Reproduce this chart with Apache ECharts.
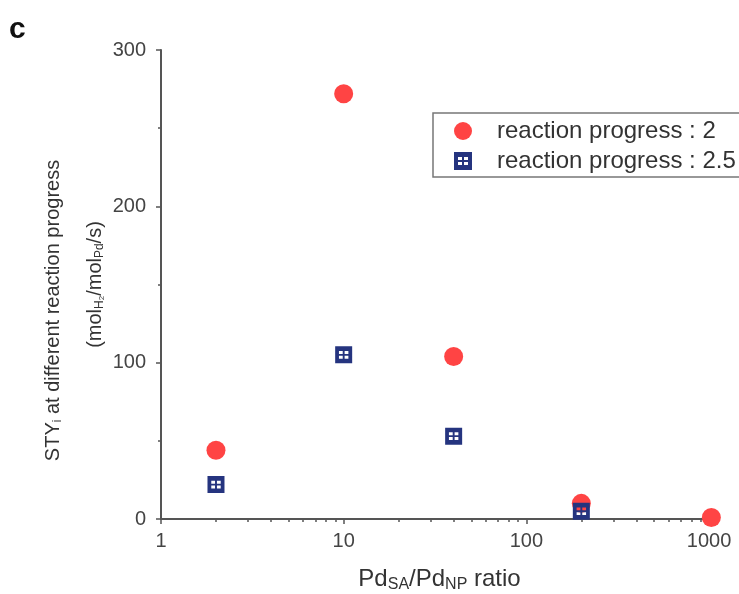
<!DOCTYPE html>
<html>
<head>
<meta charset="utf-8">
<script src="https://cdn.jsdelivr.net/npm/echarts@6/dist/echarts.min.js"></script>
<style>html,body{margin:0;padding:0;background:#fff}#c{width:739px;height:594px}</style>
</head>
<body>
<div id="c"></div>
<script>
// Data
const seriesNames = ['reaction progress : 2', 'reaction progress : 2.5'];
const ratiosA = [2, 10, 40, 200, 1030];
const styA = [44, 272, 104, 10, 1];
const ratiosB = [2, 10, 40, 200];
const styB = [22, 105, 53, 5];
const xMajorTicks = [1, 10, 100, 1000];
const xMinorTicks = [2,3,4,5,6,7,8,9,20,30,40,50,60,70,80,90,200,300,400,500,600,700,800,900];

const red = '#ff4444';
const navy = '#25347f';
const axisColor = '#555';
const font = 'Liberation Sans, Arial, sans-serif';

const squareSym = 'path://M0 0 H18 V18 H0 Z M4 5 V8 H8 V5 Z M10 5 V8 H14 V5 Z M4 10 V13 H8 V10 Z M10 10 V13 H14 V10 Z';

const chart = echarts.init(document.getElementById('c'), null, {renderer: 'canvas'});
chart.setOption({
  animation: false,
  backgroundColor: '#fff',
  textStyle: {fontFamily: font},
  title: {text: 'c', left: 9, top: 15, padding: 0, textStyle: {fontSize: 30, fontWeight: 'bold', color: '#111', fontFamily: font}},
  grid: {left: 161, right: 21, top: 50, bottom: 75, outerBoundsMode: 'none', containLabel: false},
  legend: {
    orient: 'vertical', left: 433, top: 113,
    padding: [6, 40, 4, 21],
    itemWidth: 58, itemHeight: 18, itemGap: 6,
    borderColor: '#777', borderWidth: 1.5, borderRadius: 0,
    textStyle: {fontSize: 24, color: '#333', fontFamily: font},
    data: seriesNames
  },
  xAxis: [{
    type: 'log', min: 1, max: 1120, logBase: 10,
    name: 'Pd{s|SA}/Pd{s|NP} ratio', nameLocation: 'middle', nameGap: 46, nameMoveOverlap: false,
    nameTextStyle: {fontSize: 24, color: '#333', fontFamily: font,
      rich: {s: {fontSize: 16, color: '#333', padding: [12, 0, 0, 0], fontFamily: font}}},
    axisLine: {lineStyle: {color: axisColor, width: 2}},
    axisTick: {show: true, inside: false, length: 5, customValues: xMajorTicks, lineStyle: {color: axisColor, width: 1.5}},
    axisLabel: {customValues: xMajorTicks, fontSize: 20, color: '#444', margin: 12, fontFamily: font,
      formatter: v => String(Math.round(v))},
    splitLine: {show: false}
  }, {
    type: 'log', min: 1, max: 1120, logBase: 10, position: 'bottom',
    axisLine: {show: false},
    axisTick: {show: true, inside: false, length: 3, customValues: xMinorTicks, lineStyle: {color: axisColor, width: 1.5}},
    axisLabel: {show: false},
    splitLine: {show: false}
  }],
  yAxis: {
    type: 'value', min: 0, max: 300, interval: 100,
    name: 'STY{s|i} at different reaction progress{g| }\n(mol{s|H}{ss|2}/mol{s|Pd}/s)',
    nameLocation: 'middle', nameGap: 45, nameRotate: 90, nameMoveOverlap: false,
    nameTextStyle: {fontSize: 20, color: '#333', lineHeight: 42, fontFamily: font,
      rich: {
        s: {fontSize: 12, color: '#333', padding: [10, 0, 0, 0], fontFamily: font},
        ss: {fontSize: 8, color: '#333', padding: [14, 0, 0, 0], fontFamily: font},
        g: {width: 52, fontSize: 20}
      }},
    axisLine: {show: true, lineStyle: {color: axisColor, width: 2}},
    axisTick: {show: true, inside: false, length: 5, lineStyle: {color: axisColor, width: 1.5}},
    minorTick: {show: true, splitNumber: 2, length: 3, lineStyle: {color: axisColor, width: 1.5}},
    axisLabel: {fontSize: 20, color: '#444', margin: 15, fontFamily: font},
    splitLine: {show: false},
    minorSplitLine: {show: false}
  },
  series: [{
    name: seriesNames[0], type: 'scatter', symbol: 'circle', symbolSize: 19,
    itemStyle: {color: red, opacity: 1},
    data: ratiosA.map((x, i) => [x, styA[i]]),
    z: 2
  }, {
    name: seriesNames[1], type: 'scatter', symbol: squareSym, symbolSize: 17,
    itemStyle: {color: navy, opacity: 1},
    data: ratiosB.map((x, i) => [x, styB[i]]),
    z: 3
  }]
});
</script>
</body>
</html>
